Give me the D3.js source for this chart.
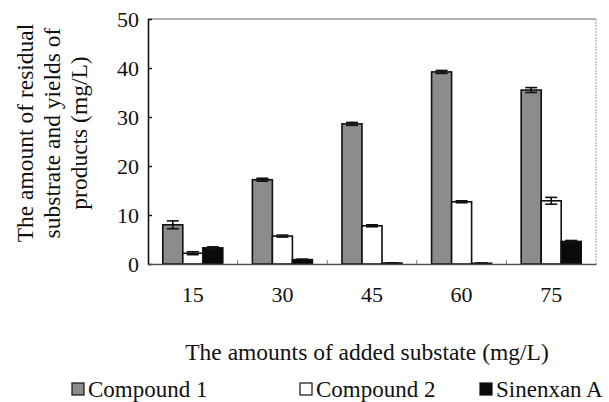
<!DOCTYPE html>
<html>
<head>
<meta charset="utf-8">
<script src="https://cdn.jsdelivr.net/npm/d3@7"></script>
<style>
  body { margin: 0; background: #fff; }
</style>
</head>
<body>
<svg id="chart" width="609" height="402"></svg>
<script>
const categories = ["15", "30", "45", "60", "75"];
const seriesNames = ["Compound 1", "Compound 2", "Sinenxan A"];
const compound1 = [8.0, 17.2, 28.6, 39.2, 35.5];
const compound1Err = [0.8, 0.3, 0.3, 0.3, 0.5];
const compound2 = [2.2, 5.7, 7.8, 12.7, 12.9];
const compound2Err = [0.3, 0.2, 0.2, 0.2, 0.7];
const sinenxan = [3.3, 0.9, 0.2, 0.15, 4.6];
const sinenxanErr = [0.2, 0.1, 0.05, 0.05, 0.2];
const yTicks = [0, 10, 20, 30, 40, 50];
const colors = ["#8c8c8c", "#ffffff", "#0a0a0a"];

const values = [compound1, compound2, sinenxan];
const errors = [compound1Err, compound2Err, sinenxanErr];
const FONT = "'Liberation Serif', 'Times New Roman', Times, serif";

const svg = d3.select("#chart");
const margin = { left: 148, right: 13, top: 19, bottom: 138 };
const W = 609, H = 402;
const x0 = margin.left, x1 = W - margin.right;
const y0 = H - margin.bottom, y1 = margin.top;

const x = d3.scaleBand().domain(categories).range([x0, x1]).paddingInner(0.33).paddingOuter(0.165);
const band = d3.scaleBand().domain(categories).range([x0, x1]);
const xs = d3.scaleBand().domain(seriesNames).range([0, x.bandwidth()]);
const y = d3.scaleLinear().domain([0, 50]).range([y0, y1]);

// frame (light top/right)
svg.append("line").attr("x1", x0).attr("x2", x1).attr("y1", y1).attr("y2", y1)
  .attr("stroke", "#9a9a9a").attr("stroke-width", 1.5);
svg.append("line").attr("x1", x1).attr("x2", x1).attr("y1", y1).attr("y2", y0)
  .attr("stroke", "#b0b0b0").attr("stroke-width", 1.2).attr("stroke-dasharray", "2,1");

// bars
const rows = categories.map((c, i) => seriesNames.map((s, j) => ({ c, s, j, v: values[j][i], e: errors[j][i] })));
const g = svg.append("g");
const groups = g.selectAll("g.grp").data(rows).enter().append("g")
  .attr("transform", (d, i) => `translate(${x(categories[i])},0)`);
groups.selectAll("rect").data(d => d).enter().append("rect")
  .attr("x", d => xs(d.s))
  .attr("y", d => y(d.v))
  .attr("width", xs.bandwidth())
  .attr("height", d => y0 - y(d.v))
  .attr("fill", d => colors[d.j])
  .attr("stroke", "#111").attr("stroke-width", 1.6);

// error bars
const eb = groups.selectAll("g.err").data(d => d).enter().append("g")
  .attr("stroke", "#111").attr("stroke-width", 1.6);
eb.append("line")
  .attr("x1", d => xs(d.s) + xs.bandwidth() / 2).attr("x2", d => xs(d.s) + xs.bandwidth() / 2)
  .attr("y1", d => y(Math.max(0, d.v - d.e))).attr("y2", d => y(d.v + d.e));
eb.append("line")
  .attr("x1", d => xs(d.s) + xs.bandwidth() * 0.2).attr("x2", d => xs(d.s) + xs.bandwidth() * 0.8)
  .attr("y1", d => y(d.v + d.e)).attr("y2", d => y(d.v + d.e));
eb.append("line")
  .attr("x1", d => xs(d.s) + xs.bandwidth() * 0.2).attr("x2", d => xs(d.s) + xs.bandwidth() * 0.8)
  .attr("y1", d => y(Math.max(0, d.v - d.e))).attr("y2", d => y(Math.max(0, d.v - d.e)));

// y axis
const yAxis = svg.append("g").attr("transform", `translate(${x0},0)`)
  .call(d3.axisLeft(y).tickValues(yTicks).tickSize(-4).tickPadding(9).tickSizeOuter(0));
yAxis.attr("font-family", null).attr("font-size", null);
yAxis.select(".domain").attr("stroke", "#111").attr("stroke-width", 1.6);
yAxis.selectAll(".tick line").attr("stroke", "#111").attr("stroke-width", 1.4);
yAxis.selectAll("text").style("font-size", "22px").style("font-family", FONT).attr("fill", "#111");

// x axis
const xAxis = svg.append("g").attr("transform", `translate(0,${y0})`)
  .call(d3.axisBottom(x).tickSize(0).tickPadding(22).tickSizeOuter(0));
xAxis.attr("font-family", null).attr("font-size", null);
xAxis.select(".domain").attr("stroke", "#555").attr("stroke-width", 1.4);
xAxis.selectAll("text").style("font-size", "22px").style("font-family", FONT).attr("fill", "#111");
svg.append("g").selectAll("line").data(categories.slice(1)).enter().append("line")
  .attr("x1", d => band(d)).attr("x2", d => band(d))
  .attr("y1", y0).attr("y2", y0 - 4)
  .attr("stroke", "#777").attr("stroke-width", 1);

// axis titles
svg.append("text").attr("x", 367).attr("y", 360).attr("text-anchor", "middle")
  .style("font-size", "23.5px").style("font-family", FONT).attr("fill", "#111")
  .text("The amounts of added substate (mg/L)");

const yTitle = ["The amount of residual", "substrate and yields of", "products (mg/L)"];
svg.append("g").attr("transform", "translate(0,133) rotate(-90)")
  .selectAll("text").data(yTitle).enter().append("text")
  .attr("x", 0).attr("y", (d, i) => 33 + i * 27)
  .attr("text-anchor", "middle")
  .style("font-size", "23.5px").style("font-family", FONT).attr("fill", "#111")
  .text(d => d);

// legend
const legendX = [72, 300, 480];
const lg = svg.append("g").selectAll("g").data(seriesNames).enter().append("g")
  .attr("transform", (d, i) => `translate(${legendX[i]},383)`);
lg.append("rect").attr("x", 0).attr("y", 0).attr("width", 12).attr("height", 12)
  .attr("fill", (d, i) => colors[i]).attr("stroke", "#111").attr("stroke-width", 1.2);
lg.append("text").attr("x", 16).attr("y", 14)
  .style("font-size", "23px").style("font-family", FONT).attr("fill", "#111")
  .text(d => d);
</script>
</body>
</html>
